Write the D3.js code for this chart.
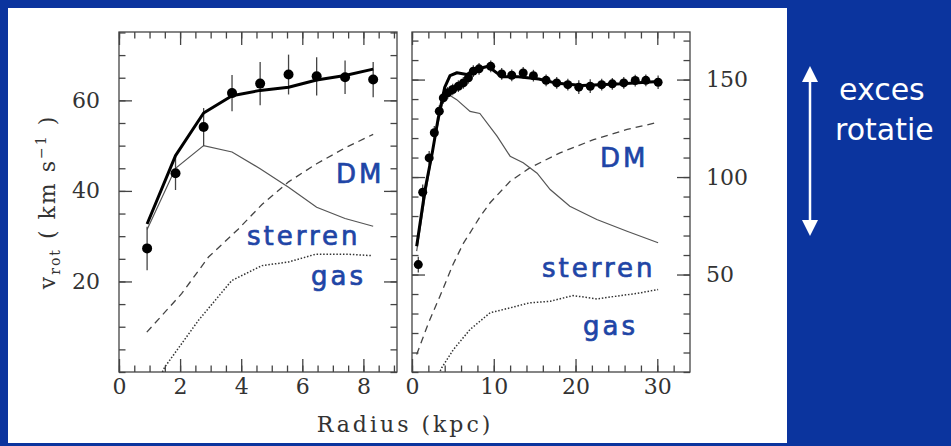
<!DOCTYPE html>
<html>
<head>
<meta charset="utf-8">
<style>
  body { margin: 0; background: #0b349e; }
  svg { display: block; }
  .frame { fill: none; stroke: #444; stroke-width: 1.3; }
  .axis path { display: none; }
  .axis line { stroke: #444; stroke-width: 1.3; }
  .axis text { font-family: "DejaVu Serif", serif; font-size: 22px; fill: #333; }
  .xtitle { font-family: "DejaVu Serif", serif; font-size: 22px; fill: #333; letter-spacing: 3px; }
  .ytitle { font-family: "DejaVu Serif", serif; font-size: 22px; fill: #333; letter-spacing: 2px; }
  .label { font-family: "DejaVu Sans", sans-serif; font-size: 26px; fill: #1f45a6; stroke: #1f45a6; stroke-width: 0.7px; letter-spacing: 3px; }
  .note { font-family: "DejaVu Sans", sans-serif; font-size: 30px; fill: #fff; }
</style>
</head>
<body>
<svg id="chart" width="951" height="446"></svg>
<script src="https://d3js.org/d3.v7.min.js"></script>
<script>
// left galaxy (small one), radius in kpc, v in km/s
var leftR     = [0.92, 1.85, 2.77, 3.7, 4.62, 5.55, 6.47, 7.4, 8.32];
var leftObs   = [27.3, 43.9, 54.1, 61.6, 63.7, 65.7, 65.3, 65.1, 64.6];
var leftErr   = [4.8, 3.7, 4.2, 4.0, 4.8, 4.4, 4.2, 3.7, 3.9];
var leftTotal = [32.7, 47.8, 57.2, 61.0, 62.2, 62.9, 64.5, 65.5, 66.9];
var leftStars = [31.5, 45.0, 50.0, 48.6, 44.9, 40.8, 36.4, 33.9, 32.2];
var leftDmR   = [0.91, 2.05, 2.93, 3.91, 4.68, 5.55, 6.47, 7.4, 8.32];
var leftDm    = [8.8, 17.3, 25.4, 31.6, 37.0, 42.0, 46.0, 49.5, 52.5];
var leftGasR  = [1.42, 1.5, 2.6, 3.69, 4.68, 5.55, 6.43, 7.52, 8.28];
var leftGas   = [0, 1.1, 11.4, 20.2, 23.5, 24.3, 26.0, 26.0, 25.7];

// right galaxy (big one)
var rightR   = [0.77, 1.31, 2.1, 2.73, 3.34, 3.83, 4.37, 4.98, 5.67, 6.28, 6.9, 7.5, 8.2, 9.63, 10.97,
                12.2, 13.6, 14.85, 16.4, 17.7, 19.06, 20.4, 21.8, 23.2, 24.5, 25.9, 27.3, 28.6, 30.1];
var rightObs = [55.1, 92.2, 109.8, 122.7, 133.8, 140.6, 143.2, 144.9, 146.6, 148.3, 150.9, 154.3, 155.5, 156.8, 152.9,
                152.2, 153.4, 152.0, 149.6, 148.3, 147.4, 146.1, 146.6, 147.4, 147.8, 148.3, 149.5, 149.6, 148.6];
var rightErr = [4, 4, 3.5, 3.5, 3, 3, 3, 3, 3, 3, 3, 3, 3, 3, 3,
                3, 3, 3, 3, 3, 3, 3.5, 3.5, 3, 3, 3, 3, 3, 3.5];
var rightTotR   = [0.57, 1.6, 2.5, 3.2, 4.0, 4.65, 5.5, 6.7, 7.7, 9.3, 10.97, 13, 15.5, 17.5, 20.8, 25.7, 30.1];
var rightTotal  = [64.5, 93.6, 113, 130, 146, 152, 153.5, 152.6, 155, 156.8, 151.5, 151.5, 150.3, 148.3, 147, 147.8, 149];
var rightStarR  = [0.57, 1.6, 2.8, 3.83, 4.6, 5.47, 7.1, 8.3, 10.4, 12, 13.6, 15.3, 16.9, 19.3, 22.6, 26.3, 30.1];
var rightStars  = [62, 90, 120, 139.7, 142, 139.7, 133.7, 132.6, 121, 110.7, 107.3, 102, 93.6, 85, 78.2, 72.2, 66.3];
var rightDmR    = [0.57, 2, 3.43, 5, 6.28, 7.1, 8.3, 9.55, 12, 14.4, 18.1, 22.2, 26.3, 30.1];
var rightDm     = [9, 25, 39, 55, 66, 71.4, 79.5, 86.8, 97.8, 104.7, 112.4, 119.2, 124.4, 128.1];
var rightGasR   = [3.45, 3.63, 5.06, 7.1, 9.55, 12, 14.4, 16.9, 19.7, 22.6, 25, 27.5, 30.1];
var rightGas    = [0.5, 2.1, 11.5, 21.8, 30.4, 32.9, 35.5, 36.3, 39.2, 37.5, 38.9, 40.3, 42.3];

// ticks
var leftXMajor  = [0, 2, 4, 6, 8];
var leftYMajor  = [20, 40, 60];
var rightXMajor = [0, 10, 20, 30];
var rightYMajor = [50, 100, 150];

var svg = d3.select('#chart');

svg.append('rect')
    .attr('x', 8).attr('y', 8)
    .attr('width', 779).attr('height', 435)
    .attr('fill', '#fff');

function zip(xs, ys) { return xs.map(function(x, i) { return [x, ys[i]]; }); }

function drawPanel(p) {
    var x = d3.scaleLinear().domain(p.xDomain).range([p.left, p.right]);
    var y = d3.scaleLinear().domain(p.yDomain).range([372, 32]);
    var g = svg.append('g');

    var xMinor = d3.range(0, p.xDomain[1], p.xMinorStep);
    var yMinor = d3.range(0, p.yDomain[1], p.yMinorStep);

    // bottom / top
    g.append('g').attr('class', 'axis').attr('transform', 'translate(0,372)')
        .call(d3.axisBottom(x).tickValues(xMinor).tickSizeInner(-6.5).tickSizeOuter(0).tickFormat(''));
    g.append('g').attr('class', 'axis').attr('transform', 'translate(0,372)')
        .call(d3.axisBottom(x).tickValues(p.xMajor).tickSizeInner(-13).tickSizeOuter(0).tickPadding(6).tickFormat(d3.format('d')));
    g.append('g').attr('class', 'axis').attr('transform', 'translate(0,32)')
        .call(d3.axisTop(x).tickValues(xMinor).tickSizeInner(-6.5).tickSizeOuter(0).tickFormat(''));
    g.append('g').attr('class', 'axis').attr('transform', 'translate(0,32)')
        .call(d3.axisTop(x).tickValues(p.xMajor).tickSizeInner(-13).tickSizeOuter(0).tickFormat(''));

    // left / right
    g.append('g').attr('class', 'axis').attr('transform', 'translate(' + p.left + ',0)')
        .call(d3.axisLeft(y).tickValues(yMinor).tickSizeInner(-6.5).tickSizeOuter(0).tickFormat(''));
    g.append('g').attr('class', 'axis').attr('transform', 'translate(' + p.left + ',0)')
        .call(d3.axisLeft(y).tickValues(p.yMajor).tickSizeInner(-13).tickSizeOuter(0).tickPadding(19)
            .tickFormat(p.labelSide == 'left' ? d3.format('d') : ''));
    g.append('g').attr('class', 'axis').attr('transform', 'translate(' + p.right + ',0)')
        .call(d3.axisRight(y).tickValues(yMinor).tickSizeInner(-6.5).tickSizeOuter(0).tickFormat(''));
    g.append('g').attr('class', 'axis').attr('transform', 'translate(' + p.right + ',0)')
        .call(d3.axisRight(y).tickValues(p.yMajor).tickSizeInner(-13).tickSizeOuter(0).tickPadding(16)
            .tickFormat(p.labelSide == 'right' ? d3.format('d') : ''));

    g.append('rect').attr('class', 'frame')
        .attr('x', p.left).attr('y', 32)
        .attr('width', p.right - p.left).attr('height', 340);

    var line = d3.line().x(function(d) { return x(d[0]); }).y(function(d) { return y(d[1]); });
    var clip = 'clip' + p.left;
    svg.append('clipPath').attr('id', clip).append('rect')
        .attr('x', p.left).attr('y', 32).attr('width', p.right - p.left).attr('height', 340);
    var plot = g.append('g').attr('clip-path', 'url(#' + clip + ')');

    plot.append('path').datum(p.gas).attr('d', line)
        .attr('fill', 'none').attr('stroke', '#333').attr('stroke-width', 1.5).attr('stroke-dasharray', '1.5,1.8');
    plot.append('path').datum(p.dm).attr('d', line)
        .attr('fill', 'none').attr('stroke', '#444').attr('stroke-width', 1.3).attr('stroke-dasharray', '7,5');
    plot.append('path').datum(p.stars).attr('d', line)
        .attr('fill', 'none').attr('stroke', '#555').attr('stroke-width', 1.2);

    // error bars + points
    plot.selectAll('.err').data(p.obs).enter().append('line')
        .attr('x1', function(d) { return x(d[0]); })
        .attr('x2', function(d) { return x(d[0]); })
        .attr('y1', function(d) { return y(d[1] - d[2]); })
        .attr('y2', function(d) { return y(d[1] + d[2]); })
        .attr('stroke', '#444').attr('stroke-width', 1.3);

    plot.append('path').datum(p.total).attr('d', line)
        .attr('fill', 'none').attr('stroke', '#000').attr('stroke-width', 3).attr('stroke-linejoin', 'round');

    plot.selectAll('.pt').data(p.obs).enter().append('circle')
        .attr('cx', function(d) { return x(d[0]); })
        .attr('cy', function(d) { return y(d[1]); })
        .attr('r', p.r).attr('fill', '#000');

    p.labels.forEach(function(l) {
        g.append('text').attr('class', 'label').attr('x', l[1]).attr('y', l[2]).text(l[0]);
    });
}

drawPanel({
    left: 119, right: 397,
    xDomain: [0, 9.1], yDomain: [0, 75.1],
    xMinorStep: 0.5, yMinorStep: 5,
    xMajor: leftXMajor, yMajor: leftYMajor, labelSide: 'left',
    obs: leftR.map(function(r, i) { return [r, leftObs[i], leftErr[i]]; }),
    total: zip(leftR, leftTotal), stars: zip(leftR, leftStars),
    dm: zip(leftDmR, leftDm), gas: zip(leftGasR, leftGas),
    r: 5,
    labels: [['DM', 336, 182.5], ['sterren', 247, 245], ['gas', 311, 285]]
});

drawPanel({
    left: 412, right: 690,
    xDomain: [0, 34], yDomain: [0, 174.4],
    xMinorStep: 2, yMinorStep: 10,
    xMajor: rightXMajor, yMajor: rightYMajor, labelSide: 'right',
    obs: rightR.map(function(r, i) { return [r, rightObs[i], rightErr[i]]; }),
    total: zip(rightTotR, rightTotal), stars: zip(rightStarR, rightStars),
    dm: zip(rightDmR, rightDm), gas: zip(rightGasR, rightGas),
    r: 4.5,
    labels: [['DM', 600, 166.5], ['sterren', 542, 277], ['gas', 583, 335]]
});

// axis titles
svg.append('text').attr('class', 'xtitle')
    .attr('x', 405).attr('y', 432).attr('text-anchor', 'middle')
    .text('Radius (kpc)');

var yt = svg.append('text').attr('class', 'ytitle')
    .attr('transform', 'translate(55,202) rotate(-90)')
    .attr('text-anchor', 'middle')
    .attr('xml:space', 'preserve');
yt.append('tspan').text('v');
yt.append('tspan').attr('dy', 5).style('font-size', '14px').text('rot');
yt.append('tspan').attr('dy', -5).text(' ( km s');
yt.append('tspan').attr('dy', -9).style('font-size', '14px').text('\u22121');
yt.append('tspan').attr('dy', 9).text(' )');

// side annotation
svg.append('line')
    .attr('x1', 810).attr('x2', 810).attr('y1', 78).attr('y2', 224)
    .attr('stroke', '#fff').attr('stroke-width', 2.5);
svg.append('path').attr('d', 'M810,66 L802,82 L818,82 Z').attr('fill', '#fff');
svg.append('path').attr('d', 'M810,236 L802,220 L818,220 Z').attr('fill', '#fff');
svg.append('text').attr('class', 'note').attr('x', 839).attr('y', 100).text('exces');
svg.append('text').attr('class', 'note').attr('x', 835).attr('y', 140).text('rotatie');
</script>
</body>
</html>
